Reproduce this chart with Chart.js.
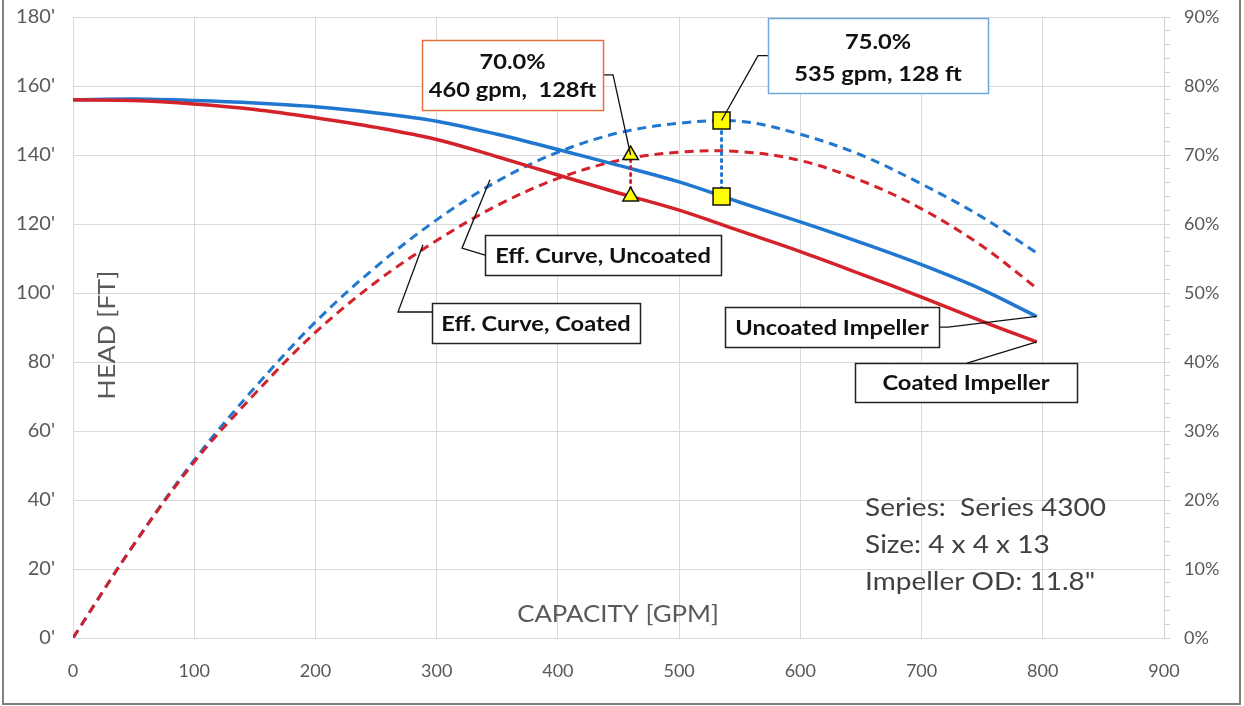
<!DOCTYPE html>
<html><head><meta charset="utf-8">
<script src="https://cdn.jsdelivr.net/npm/chart.js@4"></script>
<style>html,body{margin:0;padding:0;background:#fff}canvas{display:block}</style>
</head><body>
<canvas id="c" width="1244" height="706"></canvas>
<script>
// ---- data ----
const capacityGpm   = [0, 50, 100, 150, 200, 250, 300, 350, 400, 450, 500, 550, 600, 650, 700, 750, 795];
const headUncoated  = [156, 156.2, 155.8, 155.1, 154, 152.2, 149.8, 146, 141.6, 137, 132.2, 126.3, 120.6, 114.6, 108.2, 101, 93.2];
const headCoated    = [156, 155.8, 154.8, 153.2, 150.8, 148, 144.5, 139.5, 134.2, 129, 124, 118, 112, 105.5, 98.8, 91.8, 85.8];
const effUncoated   = [0, 13.5, 25.8, 36.3, 45.8, 53.8, 60.6, 66.2, 70.4, 73.2, 74.6, 74.9, 73, 70, 65.8, 61, 55.8];
const effCoated     = [0, 13.5, 25.5, 35.4, 44.3, 51.6, 57.6, 62.7, 66.6, 69.2, 70.4, 70.5, 69.2, 66.3, 62.2, 56.8, 50.7];
const bepCoated     = {gpm: 460, head: 128, eff: 70.0};
const bepUncoated   = {gpm: 535, head: 128, eff: 75.0};
const xTicks        = [0, 100, 200, 300, 400, 500, 600, 700, 800, 900];
const headTicks     = [0, 20, 40, 60, 80, 100, 120, 140, 160, 180];
const effTicks      = [0, 10, 20, 30, 40, 50, 60, 70, 80, 90];
const infoLines     = ['Series:  Series 4300', 'Size: 4 x 4 x 13', 'Impeller OD: 11.8"'];

const BLUE = '#1f77cf', RED = '#d3222a', GRID = '#d9d9d9', TXT = '#595959';
const FONT = 'Lato, "Open Sans", sans-serif';
Chart.defaults.font.family = FONT;

const pts = (xs, ys) => xs.map((v, i) => ({x: v, y: ys[i]}));
const curve = (label, ys, axis, color, dash, order) => ({
  label, data: pts(capacityGpm, ys), yAxisID: axis, showLine: true,
  borderColor: color, borderWidth: dash ? 3 : 3.5, borderDash: dash || [],
  pointRadius: 0, tension: 0.35, fill: false, order
});
const marker = (label, p, axis, style, r) => ({
  label, data: [p], yAxisID: axis, showLine: false, pointStyle: style, pointRadius: r,
  pointBackgroundColor: '#ffff00', pointBorderColor: '#111', pointBorderWidth: 1.5, order: 0
});

// annotation boxes: centre in data units (gpm, head), size in px
const notes = [
  {lines: ['70.0%', '460 gpm,  128ft'], offs: [-13, 15], cx: 362.6, cy: 163.2, w: 181, h: 70, border: '#e2703f',
   path: [[437.2, 163.2, 'y'], [445.5, 163.2, 'y'], [bepCoated.gpm, bepCoated.eff, 'y2']]},
  {lines: ['75.0%', '535 gpm, 128 ft'], offs: [-14, 18], cx: 664.1, cy: 168.8, w: 220, h: 75, border: '#6fa9dc',
   path: [[573.3, 168.8, 'y'], [565.1, 168.8, 'y'], [bepUncoated.gpm, bepUncoated.eff, 'y2']]},
  {lines: ['Eff. Curve, Uncoated'], offs: [1], cx: 437.2, cy: 111.0, w: 236, h: 40, border: '#222',
   path: [[339.9, 111.0, 'y'], [320.9, 113.0, 'y'], [344, 66.4, 'y2']]},
  {lines: ['Eff. Curve, Coated'], offs: [1], cx: 382, cy: 91.3, w: 208, h: 40, border: '#222',
   path: [[296.2, 94.5, 'y'], [268.1, 94.5, 'y'], [288.7, 57, 'y2']]},
  {lines: ['Uncoated Impeller'], offs: [1], cx: 626.1, cy: 90.1, w: 214, h: 40, border: '#222',
   path: [[714.4, 90.1, 'y'], [721.8, 90.1, 'y'], [795, headUncoated[headUncoated.length - 1], 'y']]},
  {lines: ['Coated Impeller'], offs: [1], cx: 736.7, cy: 74.1, w: 222, h: 39, border: '#222',
   path: [[737.5, 79.7, 'y'], [795, headCoated[headCoated.length - 1], 'y']]}
];

function stretchText(ctx, s, x, y, sx, rot) {
  ctx.save(); ctx.translate(x, y); if (rot) ctx.rotate(rot); ctx.scale(sx, 1);
  ctx.fillText(s, 0, 0); ctx.restore();
}

const connectors = {
  id: 'connectors',
  beforeDatasetDraw(chart, args) {
    if (args.index !== 7) return;   // first marker dataset to be drawn
    const {ctx, scales: {x, y, y2}} = chart;
    ctx.save();
    ctx.lineWidth = 3; ctx.setLineDash([2, 5]); ctx.lineCap = 'round';
    [[bepCoated, RED], [bepUncoated, BLUE]].forEach(([b, c]) => {
      ctx.strokeStyle = c; ctx.beginPath();
      ctx.moveTo(x.getPixelForValue(b.gpm), y.getPixelForValue(b.head));
      ctx.lineTo(x.getPixelForValue(b.gpm), y2.getPixelForValue(b.eff));
      ctx.stroke();
    });
    ctx.restore();
  }
};

const annot = {
  id: 'annot',
  afterDatasetsDraw(chart) {
    const {ctx, scales} = chart;
    const X = v => scales.x.getPixelForValue(v), Y = v => scales.y.getPixelForValue(v);
    ctx.save();
    ctx.setLineDash([]); ctx.strokeStyle = '#111'; ctx.lineWidth = 1.3;
    notes.forEach(n => {
      ctx.beginPath();
      n.path.forEach((p, i) => {
        const px = X(p[0]), py = scales[p[2]].getPixelForValue(p[1]);
        i ? ctx.lineTo(px, py) : ctx.moveTo(px, py);
      });
      ctx.stroke();
    });
    notes.forEach(n => {
      const cx = X(n.cx), cy = Y(n.cy);
      const l = Math.round(cx - n.w / 2) + 0.5, t = Math.round(cy - n.h / 2) + 0.5;
      ctx.fillStyle = '#fff'; ctx.fillRect(l, t, n.w, n.h);
      ctx.strokeStyle = n.border; ctx.lineWidth = 1.5; ctx.strokeRect(l, t, n.w, n.h);
      ctx.fillStyle = '#111'; ctx.font = 'bold 21.5px ' + FONT;
      ctx.textAlign = 'center'; ctx.textBaseline = 'middle';
      n.lines.forEach((s, i) => stretchText(ctx, s, cx, cy + n.offs[i], 1.1));
    });
    ctx.fillStyle = '#404040'; ctx.font = '25px ' + FONT;
    ctx.textAlign = 'left'; ctx.textBaseline = 'middle';
    [37.7, 27.0, 16.2].forEach((h, i) => stretchText(ctx, infoLines[i], X(653.4), Y(h), 1.12));
    ctx.fillStyle = TXT; ctx.textAlign = 'center'; ctx.font = '24px ' + FONT;
    stretchText(ctx, 'CAPACITY [GPM]', X(449.6), Y(7), 1.075);
    stretchText(ctx, 'HEAD [FT]', X(28), Y(87.8), 1.12, -Math.PI / 2);
    ctx.restore();
  },
  afterDraw(chart) {
    const ctx = chart.ctx;
    ctx.save(); ctx.strokeStyle = '#808080'; ctx.lineWidth = 2;
    ctx.beginPath(); ctx.moveTo(3, 0); ctx.lineTo(3, 704); ctx.lineTo(1240, 704); ctx.lineTo(1240, 0); ctx.stroke();
    ctx.restore();
  }
};

const noPad = s => { s.paddingTop = 0; s.paddingBottom = 0; s.paddingLeft = 0; s.paddingRight = 0; };

new Chart(document.getElementById('c'), {
  type: 'scatter',
  data: {datasets: [
    curve('Eff. Curve, Uncoated', effUncoated, 'y2', BLUE, [9, 6], 4),
    curve('Eff. Curve, Coated', effCoated, 'y2', RED, [9, 6], 3),
    curve('Uncoated Impeller', headUncoated, 'y', BLUE, null, 2),
    curve('Coated Impeller', headCoated, 'y', RED, null, 1),
    marker('BEP coated head', {x: bepCoated.gpm, y: bepCoated.head}, 'y', 'triangle', 9),
    marker('BEP coated eff', {x: bepCoated.gpm, y: bepCoated.eff}, 'y2', 'triangle', 9),
    marker('BEP uncoated head', {x: bepUncoated.gpm, y: bepUncoated.head}, 'y', 'rect', 12),
    marker('BEP uncoated eff', {x: bepUncoated.gpm, y: bepUncoated.eff}, 'y2', 'rect', 12)
  ]},
  options: {
    responsive: false, animation: false,
    layout: {padding: {top: 17, left: 0, right: 0, bottom: 0}},
    plugins: {legend: {display: false}, tooltip: {enabled: false}},
    scales: {
      x: {type: 'linear', min: xTicks[0], max: xTicks[xTicks.length - 1],
          afterBuildTicks: s => { s.ticks = xTicks.map(v => ({value: v})); },
          ticks: {color: TXT, font: {size: 18}, padding: 22},
          grid: {color: GRID, drawTicks: false}, border: {color: GRID},
          afterFit: s => { s.height = 68; noPad(s); }},
      y: {position: 'left', min: headTicks[0], max: headTicks[headTicks.length - 1],
          afterBuildTicks: s => { s.ticks = headTicks.map(v => ({value: v})); },
          ticks: {color: TXT, font: {size: 20}, padding: 18, callback: v => v + "'"},
          grid: {color: GRID, drawTicks: false}, border: {color: GRID},
          afterFit: s => { s.width = 73; noPad(s); }},
      y2: {position: 'right', min: effTicks[0], max: effTicks[effTicks.length - 1],
          ticks: {stepSize: 2, autoSkip: false, color: TXT, font: {size: 18}, padding: 14,
                  callback: v => effTicks.includes(v) ? v + '%' : ''},
          grid: {drawOnChartArea: false, color: '#cfcfcf', tickLength: 6}, border: {color: '#cfcfcf'},
          afterFit: s => { s.width = 80; noPad(s); }}
    }
  },
  plugins: [connectors, annot]
});
</script>
</body></html>
